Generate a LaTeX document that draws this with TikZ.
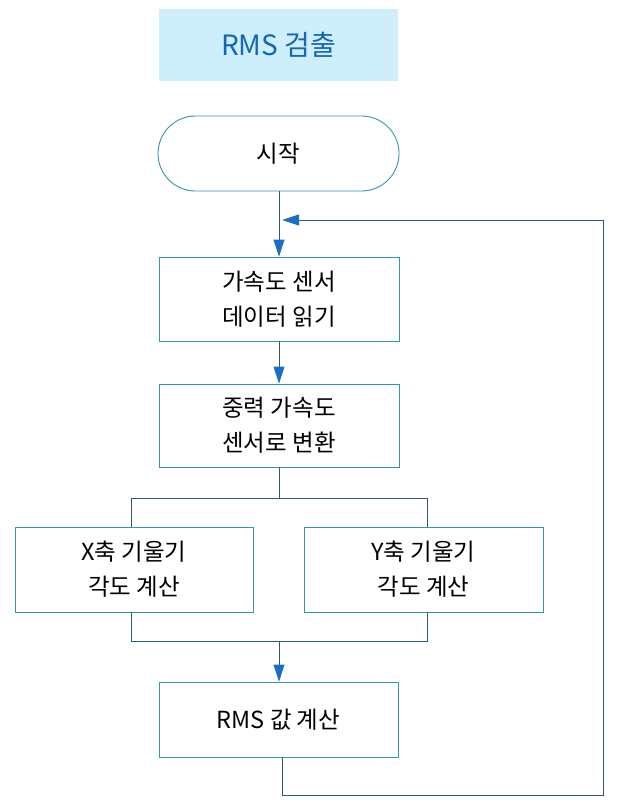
\documentclass[tikz,border=0pt]{standalone}
\usepackage{fontspec}
\setmainfont{Noto Sans CJK KR}
\usetikzlibrary{arrows.meta,shapes.misc}
\definecolor{boxline}{HTML}{3A93A8}
\definecolor{conn}{HTML}{2E5E6E}
\definecolor{tipblue}{HTML}{1B6EC2}
\definecolor{titlefill}{HTML}{CDEEFA}
\definecolor{titletext}{HTML}{1667B0}
\begin{document}
\begin{tikzpicture}[x=1pt,y=-1pt,
  stepbox/.style={draw=boxline,line width=0.9pt,fill=white,inner sep=0pt,align=center,font=\fontsize{23.5}{35}\selectfont},
  conline/.style={draw=conn,line width=0.9pt},
  arr/.style={conline,-{Triangle[length=17pt,width=11pt,fill=tipblue,color=tipblue]}}]
\useasboundingbox (0,0) rectangle (620,812);
\node[fill=titlefill,minimum width=239pt,minimum height=72pt,inner sep=0pt,text=titletext,font=\fontsize{28}{30}\selectfont] (title) at (278.5,45) {RMS 검출};
\node[draw=boxline,line width=0.9pt,rounded rectangle,minimum width=241pt,minimum height=75pt,inner sep=0pt,font=\fontsize{23.5}{26}\selectfont] (start) at (278.5,153.5) {시작};
\node[stepbox,minimum width=240pt,minimum height=84pt] (read) at (279,299) {가속도 센서\\데이터 읽기};
\node[stepbox,minimum width=240pt,minimum height=83pt] (conv) at (279,425.5) {중력 가속도\\센서로 변환};
\node[stepbox,minimum width=238pt,minimum height=85pt] (xang) at (134,569.5) {X축 기울기\\각도 계산};
\node[stepbox,minimum width=239pt,minimum height=85pt] (yang) at (423.5,569.5) {Y축 기울기\\각도 계산};
\node[stepbox,minimum width=239pt,minimum height=75pt,font=\fontsize{23.5}{26}\selectfont] (rms) at (278.5,719.5) {RMS 값 계산};
\coordinate (split) at (279,498);
\coordinate (join) at (279,641);
\coordinate (fbA) at (282,795);
\coordinate (fbB) at (603,795);
\coordinate (fbC) at (603,220);
\coordinate (fbD) at (282,220);
\draw[arr] (start.south -| read.north) -- (read.north);
\draw[arr] (read.south) -- (conv.north);
\draw[conline] (conv.south) -- (split);
\draw[conline] (131,498) -- (427,498);
\draw[conline] (131,498) -- (xang.north -| 131,0);
\draw[conline] (427,498) -- (yang.north -| 427,0);
\draw[conline] (xang.south -| 131,0) -- (131,641) -- (427,641) -- (yang.south -| 427,0);
\draw[arr] (join) -- (rms.north -| join);
\draw[arr] (rms.south -| fbA) -- (fbA) -- (fbB) -- (fbC) -- (fbD);
\end{tikzpicture}
\end{document}
